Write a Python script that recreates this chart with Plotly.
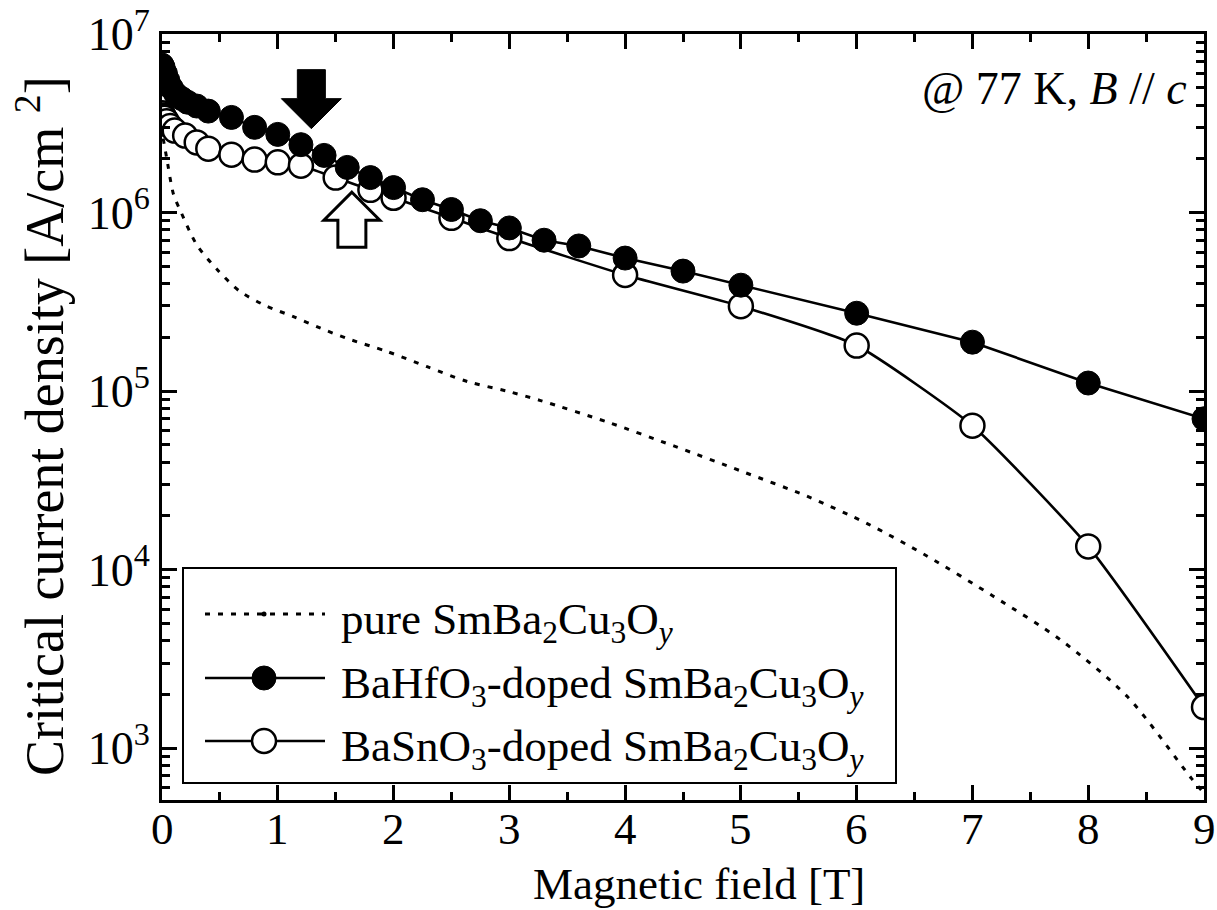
import numpy as np
import plotly.graph_objects as go

# ---------------- data ----------------
pure_field = [0.01, 0.04, 0.1, 0.16, 0.3, 0.48, 0.67, 0.9, 1.13, 1.37, 1.6, 1.94, 2.29, 2.64,
              2.98, 3.27, 3.85, 4.42, 5.0, 5.57, 6.1, 6.61, 7.18, 7.76, 8.34, 8.89, 9.0]
pure_jc = [2.6e6, 2.03e6, 1.26e6, 1.02e6, 6.6e5, 4.77e5, 3.63e5, 3.0e5, 2.62e5, 2.25e5, 1.97e5,
           1.67e5, 1.37e5, 1.13e5, 1.0e5, 8.85e4, 6.7e4, 4.93e4, 3.57e4, 2.58e4, 1.8e4, 1.19e4,
           7.1e3, 4.05e3, 1.94e3, 6.8e2, 5.6e2]

bhf_field = [0, 0.01, 0.03, 0.05, 0.08, 0.12, 0.17, 0.22, 0.3, 0.4, 0.6, 0.8, 1.0, 1.2, 1.4, 1.6,
             1.8, 2.0, 2.25, 2.5, 2.75, 3.0, 3.3, 3.6, 4.0, 4.5, 5.0, 6.0, 7.0, 8.0, 9.0]
bhf_jc = [6.7e6, 6.5e6, 6.0e6, 5.5e6, 5.0e6, 4.6e6, 4.35e6, 4.15e6, 3.95e6, 3.7e6, 3.41e6, 3.0e6,
          2.74e6, 2.40e6, 2.09e6, 1.79e6, 1.57e6, 1.38e6, 1.18e6, 1.04e6, 9.0e5, 8.2e5, 7.0e5,
          6.5e5, 5.56e5, 4.70e5, 3.92e5, 2.73e5, 1.88e5, 1.11e5, 7.0e4]

bso_field = [0, 0.01, 0.02, 0.04, 0.07, 0.11, 0.2, 0.3, 0.4, 0.6, 0.8, 1.0, 1.2, 1.5, 1.8, 2.0,
             2.5, 3.0, 4.0, 5.0, 6.0, 7.0, 8.0, 9.0]
bso_jc = [3.6e6, 3.5e6, 3.4e6, 3.25e6, 3.05e6, 2.88e6, 2.70e6, 2.47e6, 2.28e6, 2.11e6, 1.98e6,
          1.91e6, 1.83e6, 1.57e6, 1.34e6, 1.21e6, 9.34e5, 7.2e5, 4.47e5, 2.99e5, 1.80e5, 6.4e4,
          1.35e4, 1.70e3]

x_ticks = [0, 1, 2, 3, 4, 5, 6, 7, 8, 9]
y_tick_exps = [3, 4, 5, 6, 7]
legend_labels = [
    "pure SmBa<sub>2</sub>Cu<sub>3</sub>O<sub><i>y</i></sub>",
    "BaHfO<sub>3</sub>-doped SmBa<sub>2</sub>Cu<sub>3</sub>O<sub><i>y</i></sub>",
    "BaSnO<sub>3</sub>-doped SmBa<sub>2</sub>Cu<sub>3</sub>O<sub><i>y</i></sub>",
]
x_title = "Magnetic field [T]"
y_title = "Critical current density [A/cm <sup>2</sup>]"
condition_text = "@ 77 K, <i>B</i> // <i>c</i>"
black_arrow_at = (1.29, 2.95e6)   # tip of filled arrow (field, Jc)
white_arrow_at = (1.64, 1.30e6)   # tip of open arrow (field, Jc)

# ---------------- layout constants ----------------
W, H = 1217, 910
ML, MR, MT, MB = 162, 13, 34, 110
PW, PH = W - ML - MR, H - MT - MB
XR = [0, 9]
YR = [2.71, 7.0]
FONT = "Liberation Serif"
LW = 2.6

def to_paper(xv, yv):
    return (xv - XR[0]) / (XR[1] - XR[0]), (np.log10(yv) - YR[0]) / (YR[1] - YR[0])

def px2p(px, py):
    return (px - ML) / PW, (MT + PH - py) / PH

fig = go.Figure()

fig.add_trace(go.Scatter(x=pure_field, y=pure_jc, mode="lines",
                         line=dict(color="black", width=3, dash="5px,8px", shape="spline", smoothing=0.8),
                         showlegend=False))
fig.add_trace(go.Scatter(x=bso_field, y=bso_jc, mode="lines+markers",
                         line=dict(color="black", width=LW, shape="spline", smoothing=0.5),
                         marker=dict(symbol="circle", size=24, color="white",
                                     line=dict(color="black", width=2.5)),
                         showlegend=False))
fig.add_trace(go.Scatter(x=bhf_field, y=bhf_jc, mode="lines+markers",
                         line=dict(color="black", width=LW),
                         marker=dict(symbol="circle", size=24, color="black",
                                     line=dict(color="black", width=1)),
                         showlegend=False))

# ---------------- custom legend (paper-like overlay axes) ----------------
lx0, ly0 = px2p(183, 783)
lx1, ly1 = px2p(896, 568)
fig.add_shape(type="rect", xref="paper", yref="paper", x0=lx0, y0=ly0, x1=lx1, y1=ly1,
              line=dict(color="black", width=2), fillcolor="white", layer="below")

row_py = [614, 678, 741]
s0, _ = px2p(205, 0)
s1, _ = px2p(325, 0)
sm, _ = px2p(264, 0)
tx, _ = px2p(339, 0)
styles = [
    dict(line=dict(color="black", width=3, dash="5px,8px"), marker=dict(size=5, color="black")),
    dict(line=dict(color="black", width=LW), marker=dict(size=24, color="black", line=dict(color="black", width=1))),
    dict(line=dict(color="black", width=LW), marker=dict(size=24, color="white", line=dict(color="black", width=2.5))),
]
for i, (py, lab) in enumerate(zip(row_py, legend_labels)):
    _, ry = px2p(0, py)
    fig.add_trace(go.Scatter(x=[s0, s1], y=[ry, ry], mode="lines", line=styles[i]["line"],
                             xaxis="x2", yaxis="y2", showlegend=False, cliponaxis=False))
    fig.add_trace(go.Scatter(x=[sm], y=[ry], mode="markers", marker=styles[i]["marker"],
                             xaxis="x2", yaxis="y2", showlegend=False, cliponaxis=False))
    fig.add_annotation(xref="paper", yref="paper", x=tx, y=ry, xanchor="left", yanchor="middle",
                       text=lab, showarrow=False, yshift=-8,
                       font=dict(family=FONT, size=45, color="black"))

fig.add_annotation(xref="paper", yref="paper", x=px2p(1189, 0)[0], y=px2p(0, 88)[1],
                   xanchor="right", yanchor="middle", text=condition_text, showarrow=False,
                   font=dict(family=FONT, size=46, color="black"))

# x tick labels placed through the x scale
for v in x_ticks:
    fig.add_annotation(xref="x", yref="paper", x=v, y=px2p(0, 803)[1], xanchor="center",
                       yanchor="top", text=str(v), showarrow=False, borderpad=0,
                       font=dict(family=FONT, size=45, color="black"))

# axis titles as annotations
fig.add_annotation(xref="paper", yref="paper", x=px2p(699, 0)[0], y=px2p(0, 910)[1],
                   xanchor="center", yanchor="bottom", text=x_title, showarrow=False, borderpad=0,
                   font=dict(family=FONT, size=45, color="black"))
fig.add_annotation(xref="paper", yref="paper", x=px2p(40, 0)[0], y=px2p(0, 426)[1],
                   xanchor="center", yanchor="middle", text=y_title, showarrow=False, textangle=-90,
                   font=dict(family=FONT, size=54, color="black"))

# ---------------- arrows ----------------
def arrow_path(tip, pointing_down, head_hw, head_h, shaft_hw, total):
    tx_, ty_ = to_paper(*tip)
    sx, sy = 1.0 / PW, 1.0 / PH
    sgn = 1 if pointing_down else -1
    hb = ty_ + sgn * head_h * sy
    end = ty_ + sgn * total * sy
    pts = [(tx_, ty_), (tx_ + head_hw * sx, hb), (tx_ + shaft_hw * sx, hb), (tx_ + shaft_hw * sx, end),
           (tx_ - shaft_hw * sx, end), (tx_ - shaft_hw * sx, hb), (tx_ - head_hw * sx, hb)]
    return "M " + " L ".join(f"{a:.5f},{b:.5f}" for a, b in pts) + " Z"

fig.add_shape(type="path", xref="paper", yref="paper",
              path=arrow_path(black_arrow_at, True, 30, 30, 14, 59),
              fillcolor="black", line=dict(color="black", width=1))
fig.add_shape(type="path", xref="paper", yref="paper",
              path=arrow_path(white_arrow_at, False, 28, 28, 14, 55),
              fillcolor="white", line=dict(color="black", width=3))

# ---------------- axes ----------------
minor_y = [k * 10 ** n for n in range(2, 7) for k in range(2, 10)]
minor_y = [v for v in minor_y if YR[0] <= np.log10(v) <= YR[1]]

fig.update_layout(
    width=W, height=H, margin=dict(l=ML, r=MR, t=MT, b=MB, autoexpand=False),
    paper_bgcolor="white", plot_bgcolor="white",
    font=dict(family=FONT, size=46, color="black"),
    xaxis=dict(range=XR, tickvals=x_ticks, showticklabels=False,
               ticks="inside", ticklen=15, tickwidth=2.5, tickcolor="black",
               minor=dict(ticks="inside", ticklen=8, tickwidth=2.5, tickcolor="black", dtick=0.5, tick0=0, showgrid=False),
               showline=True, linewidth=3, linecolor="black", mirror="ticks",
               showgrid=False, zeroline=False),
    yaxis=dict(type="log", range=YR, tickvals=[10 ** e for e in y_tick_exps],
               ticktext=[f"10<sup>{e}</sup>" for e in y_tick_exps],
               ticks="inside", ticklen=15, tickwidth=2.5, tickcolor="black",
               minor=dict(ticks="inside", ticklen=8, tickwidth=2.5, tickcolor="black", tickvals=minor_y, showgrid=False),
               showline=True, linewidth=3, linecolor="black", mirror="ticks",
               showgrid=False, zeroline=False,
               tickfont=dict(family=FONT, size=46)),
    xaxis2=dict(overlaying="x", range=[0, 1], visible=False, fixedrange=True),
    yaxis2=dict(overlaying="y", range=[0, 1], visible=False, fixedrange=True),
    showlegend=False,
)

fig.write_html("out.html")
